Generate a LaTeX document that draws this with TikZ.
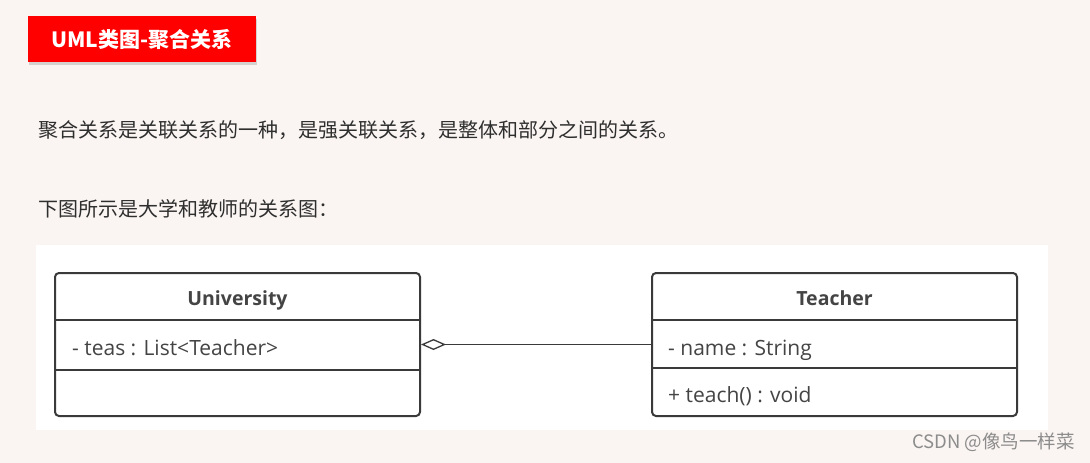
\documentclass[tikz,border=0pt]{standalone}
\usepackage{fontspec}
\usepackage{xcolor}
\usetikzlibrary{arrows.meta,shadows,positioning}
\setmainfont{Open Sans}
\newfontfamily\cjk{Noto Sans CJK SC}

\definecolor{pagebg}{HTML}{FAF5F2}
\definecolor{umlline}{HTML}{3A3A3A}
\definecolor{umltext}{HTML}{444444}

\tikzset{
  classbox/.style={draw=umlline, line width=2pt, rounded corners=4pt, fill=white,
    minimum width=365pt, minimum height=143pt, inner sep=0pt},
  classname/.style={font=\fontsize{19.5}{22}\selectfont\bfseries, text=umltext, anchor=base, inner sep=0pt},
  member/.style={font=\fontsize{21}{24}\selectfont, text=umltext, anchor=base west, inner sep=0pt},
  divider/.style={draw=umlline, line width=2pt},
  bodytext/.style={font=\cjk\fontsize{20}{22}\selectfont, text=black!82, anchor=west, inner sep=0pt},
}

\begin{document}
\begin{tikzpicture}[x=1pt,y=-1pt]
    \fill[pagebg] (0,0) rectangle (1090,463);
    \useasboundingbox (0,0) rectangle (1090,463);
    % heading
    \node[fill=red, minimum width=228pt, minimum height=46pt, text=white,
      drop shadow={shadow xshift=1pt, shadow yshift=-3pt, opacity=0.3},
      font=\cjk\bfseries\fontsize{21}{24}\selectfont] (title) at (142,39) {UML类图-聚合关系};
    \node[bodytext] (intro) at (38,130) {聚合关系是关联关系的一种，是强关联关系，是整体和部分之间的关系。};
    \node[bodytext] (caption) at (38,209) {下图所示是大学和教师的关系图：};
    % class diagram
    \fill[white] (36,245) rectangle (1048,430);
    \node[classbox] (univ) at (237.5,344.5) {};
    \node[classbox] (teacher) at (834.5,344.5) {};
    \draw[divider] ([yshift=-48pt]univ.north west) -- ([yshift=-48pt]univ.north east);
    \draw[divider] ([yshift=-98pt]univ.north west) -- ([yshift=-98pt]univ.north east);
    \draw[divider] ([yshift=-48pt]teacher.north west) -- ([yshift=-48pt]teacher.north east);
    \draw[divider] ([yshift=-96pt]teacher.north west) -- ([yshift=-96pt]teacher.north east);
    \node[classname] (univname) at (237.5,305) {University};
    \node[classname] (teachername) at (834.5,305) {Teacher};
    \node[member] (teas) at (72,355) {- teas : List<Teacher>};
    \node[member] (tname) at (668,355) {- name : String};
    \node[member] (teach) at (668,402) {+ teach() : void};
    \draw[draw=umlline, line width=1.3pt,
      -{Diamond[open, length=25pt, width=11pt, line width=1.3pt]}] (teacher.west) -- (univ.east);
    \node[font=\cjk\fontsize{18.5}{20}\selectfont, text=black!45, anchor=east, inner sep=0pt]
      (mark) at (1075,442) {CSDN @像鸟一样菜};
\end{tikzpicture}
\end{document}
